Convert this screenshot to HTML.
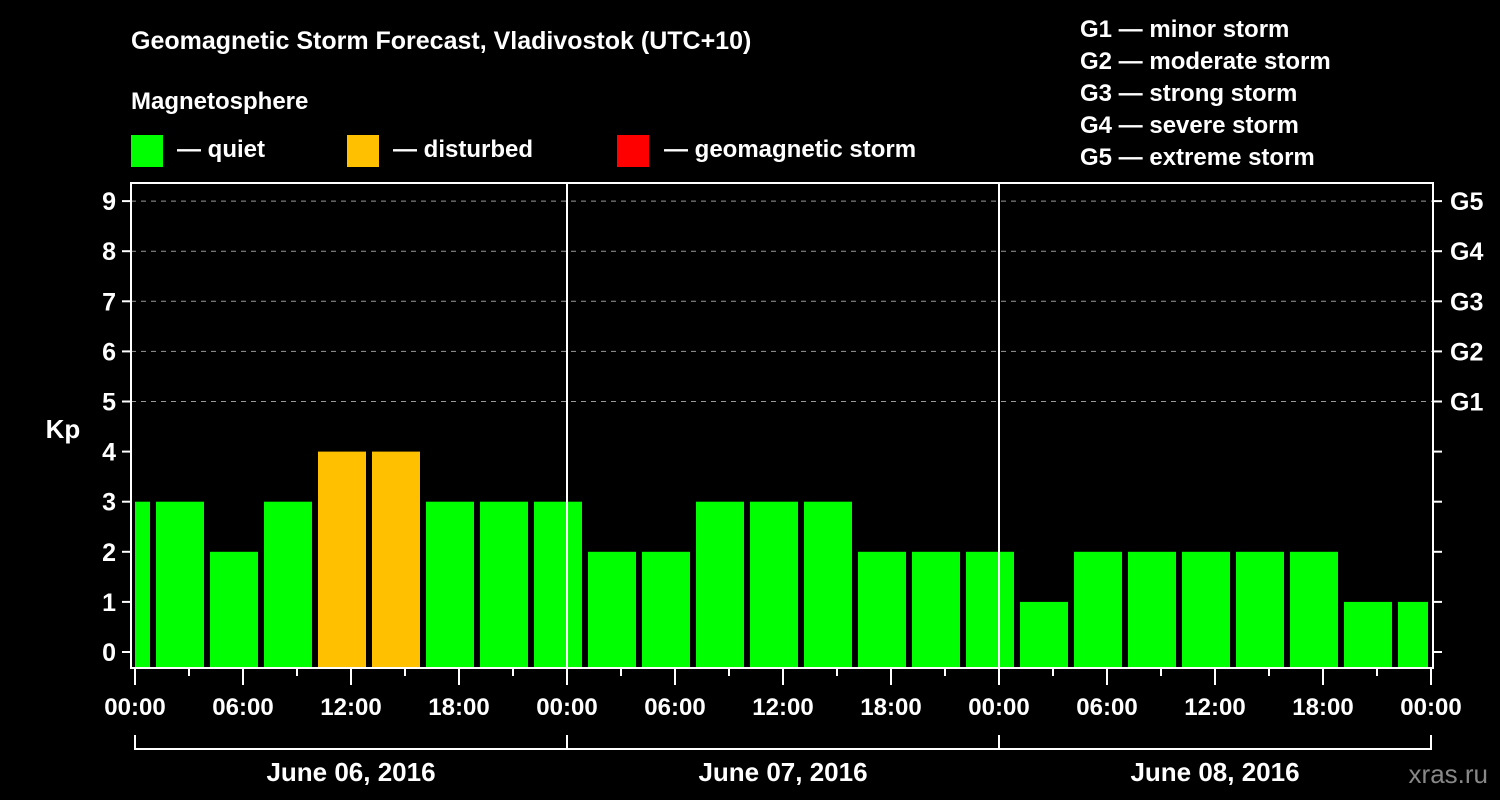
<!DOCTYPE html>
<html><head><meta charset="utf-8"><style>
html,body{margin:0;padding:0;background:#000;}
svg{display:block;font-family:"Liberation Sans",Arial,sans-serif;font-weight:bold;}
</style></head><body>
<svg width="1500" height="800" viewBox="0 0 1500 800">
<text x="131" y="49" fill="#fff" font-size="25">Geomagnetic Storm Forecast, Vladivostok (UTC+10)</text>
<text x="131" y="109" fill="#fff" font-size="24">Magnetosphere</text>
<g><rect x="131" y="135" width="32" height="32" fill="#00ff00"/><text x="177" y="157" fill="#fff" font-size="24">— quiet</text></g>
<g><rect x="347" y="135" width="32" height="32" fill="#ffc000"/><text x="393" y="157" fill="#fff" font-size="24">— disturbed</text></g>
<g><rect x="617" y="135" width="32" height="32" fill="#ff0000"/><text x="664" y="157" fill="#fff" font-size="24">— geomagnetic storm</text></g>
<g fill="#fff" font-size="24">
<text x="1080" y="37">G1 — minor storm</text>
<text x="1080" y="69">G2 — moderate storm</text>
<text x="1080" y="101">G3 — strong storm</text>
<text x="1080" y="133">G4 — severe storm</text>
<text x="1080" y="165">G5 — extreme storm</text>
</g>
<text x="63" y="438" fill="#fff" font-size="26" text-anchor="middle">Kp</text>
<text x="1488" y="783" fill="#888" font-size="26" text-anchor="end" font-weight="normal">xras.ru</text>
<g id="grid"></g><g id="bars"></g><g id="axes"></g>
</svg>
<script>
const kpValues=[3,3,2,3,4,4,3,3,3,2,2,3,3,3,2,2,2,1,2,2,2,2,2,1,1];
const startHours=[-2,1,4,7,10,13,16,19,22,25,28,31,34,37,40,43,46,49,52,55,58,61,64,67,70];
const yTicks=[0,1,2,3,4,5,6,7,8,9];
const gLabels=["G1","G2","G3","G4","G5"];
const xTickLabels=["00:00","06:00","12:00","18:00","00:00","06:00","12:00","18:00","00:00","06:00","12:00","18:00","00:00"];
const dayLabels=["June 06, 2016","June 07, 2016","June 08, 2016"];
const NS="http://www.w3.org/2000/svg";
const L=131,R=1433,T=183,B=668;
const x=h=>135+h*18;
const y=v=>652-v*50.1;
function mk(tag,attrs,parent,txt){const e=document.createElementNS(NS,tag);for(const k in attrs)e.setAttribute(k,attrs[k]);if(txt!==undefined)e.textContent=txt;document.getElementById(parent).appendChild(e);return e;}
for(let v=5;v<=9;v++){const e=mk('line',{x1:L,x2:R,y1:y(v),y2:y(v),stroke:'#999','stroke-dasharray':'5,5','stroke-width':1},'grid');

}
kpValues.forEach((v,i)=>{let x0=Math.max(x(startHours[i])+3,x(0)),x1=Math.min(x(startHours[i]+3)-3,x(72)-3);
const e=mk('rect',{x:x0,y:y(v),width:x1-x0,height:667-y(v),fill:v>=5?'#ff0000':(v>=4?'#ffc000':'#00ff00')},'bars');

});
const ax=mk('path',{d:`M${L},${T}V${B}H${R}V${T}Z`,fill:'none',stroke:'#fff','stroke-width':2},'axes');


[1,2].forEach(d=>{const e=mk('line',{x1:x(d*24),x2:x(d*24),y1:T,y2:B,stroke:'#fff','stroke-width':2},'axes');

});
yTicks.forEach(v=>{mk('line',{x1:122,x2:L,y1:y(v),y2:y(v),stroke:'#fff','stroke-width':2},'axes');
mk('line',{x1:R,x2:1442,y1:y(v),y2:y(v),stroke:'#fff','stroke-width':2},'axes');
const t=mk('text',{x:116,y:y(v)+9,fill:'#fff','font-size':25,'text-anchor':'end'},'axes',String(v));

});
gLabels.forEach((g,i)=>{const t=mk('text',{x:1450,y:y(5+i)+9,fill:'#fff','font-size':25},'axes',g);

});
for(let h=0;h<=72;h+=3){const major=h%6===0;mk('line',{x1:x(h),x2:x(h),y1:B,y2:B+(major?17:8),stroke:'#fff','stroke-width':2},'axes');}
xTickLabels.forEach((s,i)=>{const t=mk('text',{x:x(i*6),y:715,fill:'#fff','font-size':24,'text-anchor':'middle'},'axes',s);

});
const br=mk('path',{d:`M${x(0)},735V749H${x(72)}V735M${x(24)},735V749M${x(48)},735V749`,fill:'none',stroke:'#fff','stroke-width':2},'axes');


dayLabels.forEach((s,i)=>{const t=mk('text',{x:x(i*24+12),y:781,fill:'#fff','font-size':26,'text-anchor':'middle'},'axes',s);

});
</script>
</body></html>
